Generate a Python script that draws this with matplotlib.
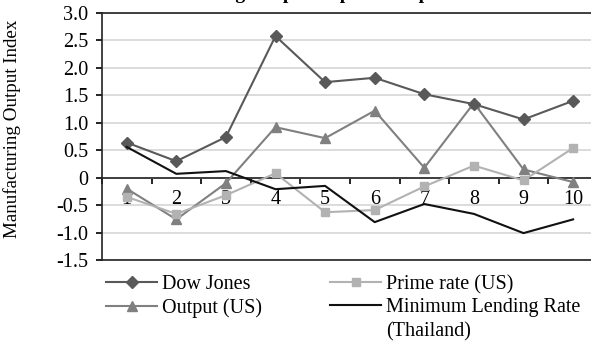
import matplotlib
matplotlib.use("Agg")
import matplotlib.pyplot as plt
from matplotlib.ticker import FixedLocator

plt.rcParams["font.family"] = ["Liberation Serif", "DejaVu Serif"]

periods = [1, 2, 3, 4, 5, 6, 7, 8, 9, 10]
dow_jones = [0.64, 0.30, 0.74, 2.58, 1.74, 1.82, 1.52, 1.34, 1.06, 1.40]
output_us = [-0.20, -0.76, -0.10, 0.92, 0.72, 1.22, 0.18, 1.36, 0.15, -0.08]
prime_us = [-0.35, -0.66, -0.32, 0.08, -0.63, -0.59, -0.16, 0.22, -0.05, 0.54]
mlr_thai = [0.56, 0.07, 0.12, -0.21, -0.15, -0.81, -0.48, -0.66, -1.01, -0.76]
yticks = [-1.5, -1.0, -0.5, 0, 0.5, 1.0, 1.5, 2.0, 2.5, 3.0]
ytick_labels = ["-1.5", "-1.0", "-0.5", "0", "0.5", "1.0", "1.5", "2.0", "2.5", "3.0"]

FS = 14.5
W, H = 591, 344

fig = plt.figure(figsize=(W / 100, H / 100), dpi=100)
# axes run a little past the right edge, like the cropped original
ax = fig.add_axes([101.9 / W, 1 - 260 / H, 496 / W, 247 / H])

l_dow, = ax.plot(periods, dow_jones, color="#595959", lw=1.5, marker="D", ms=6,
                 label="Dow Jones", zorder=4)
l_out, = ax.plot(periods, output_us, color="#808080", lw=1.5, marker="^", ms=7.5,
                 label="Output (US)", zorder=3)
l_pr, = ax.plot(periods, prime_us, color="#b2b2b2", lw=1.5, marker="s", ms=5.5,
                label="Prime rate (US)", zorder=3)
l_mlr, = ax.plot(periods, mlr_thai, color="#111111", lw=1.5,
                 label="Minimum Lending Rate", zorder=5)

ax.set_xlim(0.5, 10.5)
ax.set_ylim(-1.5, 3.0)
ax.set_yticks(yticks)
ax.set_yticklabels(ytick_labels, fontsize=FS)
ax.grid(axis="y", color="#d9d9d9", lw=1.3, zorder=0)
ax.set_axisbelow(True)

# category axis sits on the zero line, ticks between categories
ax.spines["bottom"].set_position(("data", 0))
ax.spines["bottom"].set_zorder(2)
ax.axhline(-1.5, color="#222222", lw=1.2, clip_on=False, zorder=2)
for s in ("top", "left", "right", "bottom"):
    ax.spines[s].set_color("#222222")
    ax.spines[s].set_linewidth(1.2)
ax.set_xticks(periods)
ax.set_xticklabels([str(p) for p in periods], fontsize=FS)
ax.xaxis.set_minor_locator(FixedLocator([p + 0.5 for p in range(0, 11)]))
ax.tick_params(axis="x", which="major", length=0, pad=9)
ax.tick_params(axis="x", which="minor", length=4, width=1.2, direction="out")
ax.tick_params(axis="y", length=4, width=1.2, pad=6)

fig.text(12 / W, 1 - 129 / H, "Manufacturing Output Index", fontsize=13.7,
         rotation=90, ha="center", va="center")

# title is cropped in the original: only the descenders peek in at the top
fig.text(0.5, 1.004, "Manufacturing Output Impulse Responses", fontsize=14,
         fontweight="bold", ha="center", va="baseline")

leg = fig.legend(handles=[l_dow, l_out, l_pr, l_mlr], ncol=2, frameon=False,
                 fontsize=FS, loc="upper left",
                 bbox_to_anchor=(106 / W, 1 - 275 / H),
                 handlelength=2.55, handletextpad=0.25, columnspacing=3.35,
                 labelspacing=0.18, borderaxespad=0, borderpad=0)

# second line of the last legend label, under its first line
fig.canvas.draw()
bb = leg.get_texts()[3].get_window_extent()
fig.text(bb.x0 / W, (bb.y0 - 24.5) / H, "(Thailand)", fontsize=FS,
         ha="left", va="bottom")

fig.savefig("out.png", dpi=100)
